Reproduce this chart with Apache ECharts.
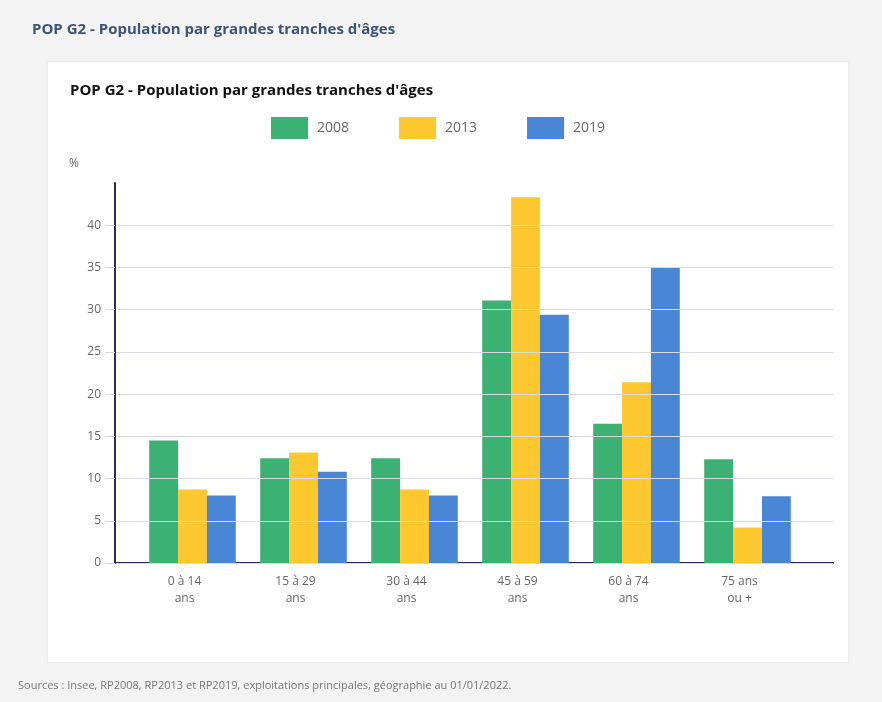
<!DOCTYPE html>
<html>
<head>
<meta charset="utf-8">
<script src="https://cdn.jsdelivr.net/npm/echarts@6/dist/echarts.min.js"></script>
<style>
html,body{margin:0;padding:0;background:#f3f3f3;}
#chart{width:882px;height:702px;}
</style>
</head>
<body>
<div id="chart"></div>
<script>
const categories = ['0 à 14\nans', '15 à 29\nans', '30 à 44\nans', '45 à 59\nans', '60 à 74\nans', '75 ans\nou +'];
const seriesNames = ['2008', '2013', '2019'];
const values2008 = [14.5, 12.4, 12.4, 31.1, 16.5, 12.3];
const values2013 = [8.7, 13.1, 8.7, 43.3, 21.4, 4.2];
const values2019 = [8.0, 10.8, 8.0, 29.4, 35.0, 7.9];
const yTicks = [0, 5, 10, 15, 20, 25, 30, 35, 40];

const colors = ['#3bb273', '#fdc82f', '#4a86d6'];
const font = '"Open Sans", "Noto Sans", sans-serif';

const chart = echarts.init(document.getElementById('chart'));
const gridLineColors = [];
for (let i = 0; i < 10; i++) gridLineColors.push(i < yTicks.length ? '#d9d9e0' : 'rgba(0,0,0,0)');

chart.setOption({
  backgroundColor: '#f3f3f3',
  color: colors,
  textStyle: { fontFamily: font },
  graphic: [
    { type: 'rect', left: 47, top: 61, shape: { width: 801, height: 601 }, style: { fill: '#ffffff', stroke: '#ececec' }, z: -10 },
    { type: 'text', left: 32, top: 22, style: { text: 'POP G2 - Population par grandes tranches d\'âges', fill: '#3d5478', font: 'bold 15px ' + font } },
    { type: 'text', left: 70, top: 83, style: { text: 'POP G2 - Population par grandes tranches d\'âges', fill: '#111111', font: 'bold 15px ' + font } },
    { type: 'text', left: 69, top: 158, style: { text: '%', fill: '#666666', font: '12px ' + font } },
    { type: 'text', left: 18, top: 680, style: { text: 'Sources : Insee, RP2008, RP2013 et RP2019, exploitations principales, géographie au 01/01/2022.', fill: '#777777', font: '11px ' + font } }
  ],
  legend: {
    left: 271,
    top: 117,
    padding: 0,
    itemWidth: 37,
    itemHeight: 22,
    itemGap: 50,
    icon: 'rect',
    textStyle: { color: '#666666', fontSize: 14, padding: [0, 0, 0, 4] },
    data: seriesNames
  },
  grid: [
    { left: 115, right: 49, top: 183, bottom: 139, containLabel: false },
    { left: 137, right: 79, top: 183, bottom: 139, containLabel: false }
  ],
  xAxis: [
    {
      type: 'category', gridIndex: 0,
      data: categories,
      axisLine: { lineStyle: { color: '#2c2b5c', width: 2 } },
      axisTick: { show: false },
      axisLabel: { show: false }
    },
    {
      type: 'category', gridIndex: 1,
      data: categories,
      axisLine: { show: false },
      axisTick: { show: false },
      axisLabel: { color: '#666666', fontSize: 12, lineHeight: 17, margin: 10, padding: [0, 16, 0, 0] }
    }
  ],
  yAxis: [
    {
      type: 'value', gridIndex: 0,
      min: 0, max: 45, interval: 5,
      axisLine: { show: true, lineStyle: { color: '#2c2b5c', width: 2 } },
      axisTick: { show: true, length: 10, customValues: yTicks, lineStyle: { color: '#d9d9e0' } },
      axisLabel: {
        color: '#666666', fontSize: 12, margin: 14, customValues: yTicks,
        formatter: v => (yTicks.indexOf(v) >= 0 ? String(v) : '')
      },
      splitLine: { show: true, lineStyle: { color: gridLineColors, width: 1 } },
      z: 3
    },
    {
      type: 'value', gridIndex: 1,
      min: 0, max: 45, interval: 5,
      axisLine: { show: false }, axisTick: { show: false }, axisLabel: { show: false }, splitLine: { show: false }
    }
  ],
  series: [
    { name: seriesNames[0], type: 'bar', xAxisIndex: 1, yAxisIndex: 1, data: values2008, barGap: '0%', barCategoryGap: '22%' },
    { name: seriesNames[1], type: 'bar', xAxisIndex: 1, yAxisIndex: 1, data: values2013, barGap: '0%', barCategoryGap: '22%' },
    { name: seriesNames[2], type: 'bar', xAxisIndex: 1, yAxisIndex: 1, data: values2019, barGap: '0%', barCategoryGap: '22%' }
  ]
});
</script>
</body>
</html>
